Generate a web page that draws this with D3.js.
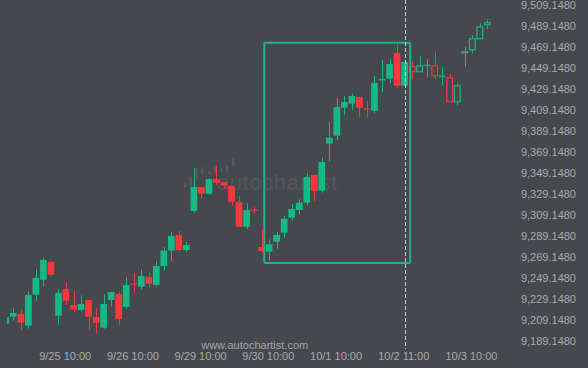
<!DOCTYPE html>
<html>
<head>
  <meta charset="utf-8">
  <script src="https://d3js.org/d3.v7.min.js"></script>
  <style>
    body { margin: 0; background: #45484d; }
    text { font-family: "Liberation Sans", Arial, sans-serif; }
  </style>
</head>
<body>
  <svg id="chart" width="588" height="368"></svg>
  <script>
    // candle data, one entry per bar (index 0 = left edge)
    var opens  = [9205.3, 9212.0, 9214.6, 9203.4, 9233.0, 9247.2, 9264.1, 9213.0, 9238.4, 9223.1,
                  9218.4, 9227.9, 9211.7, 9201.5, 9227.9, 9233.6, 9221.5, 9243.2, 9240.6, 9249.8,
                  9242.2, 9260.3, 9274.9, 9289.8, 9275.5, 9312.7, 9335.5, 9329.1, 9343.1, 9340.3,
                  9336.5, 9321.2, 9297.7, 9313.7, 9278.4, 9273.9, 9283.4, 9292.0, 9306.3, 9313.6,
                  9320.6, 9347.0, 9332.0, 9376.8, 9384.4, 9411.1, 9414.9, 9421.2, 9409.9, 9408.2,
                  9437.7, 9438.7, 9463.1, 9432.0, 9450.8, 9444.8, 9451.4, 9451.4, 9441.0, 9440.0,
                  9416.2, 9462.9, 9465.7, 9476.2, 9489.5];
    var highs  = [9211.7, 9220.0, 9219.3, 9235.8, 9257.1, 9268.6, 9265.3, 9238.1, 9245.1, 9236.5,
                  9232.4, 9227.9, 9220.0, 9233.3, 9235.5, 9235.8, 9249.8, 9253.6, 9257.4, 9253.6,
                  9264.8, 9278.4, 9292.7, 9293.6, 9283.1, 9353.6, 9335.5, 9344.1, 9356.5, 9340.3,
                  9336.5, 9327.0, 9320.3, 9316.8, 9295.5, 9285.7, 9293.0, 9308.2, 9319.1, 9323.8,
                  9348.6, 9347.0, 9363.8, 9397.4, 9420.6, 9422.2, 9424.8, 9421.2, 9417.4, 9441.2,
                  9456.2, 9457.4, 9471.4, 9456.5, 9455.5, 9460.3, 9457.1, 9463.8, 9449.5, 9442.9,
                  9434.3, 9469.5, 9480.0, 9491.4, 9495.2];
    var lows   = [9205.3, 9208.2, 9199.1, 9200.6, 9227.2, 9240.6, 9250.1, 9204.4, 9222.9, 9216.2,
                  9216.8, 9199.1, 9196.2, 9200.6, 9221.5, 9204.4, 9219.6, 9234.9, 9238.1, 9238.7,
                  9240.6, 9256.2, 9265.1, 9274.6, 9273.6, 9310.8, 9324.1, 9327.9, 9337.4, 9333.6,
                  9317.7, 9297.7, 9295.5, 9310.5, 9273.0, 9265.1, 9276.2, 9287.6, 9303.8, 9309.5,
                  9318.4, 9322.2, 9330.1, 9360.0, 9380.0, 9403.8, 9409.1, 9402.5, 9401.9, 9405.7,
                  9425.7, 9434.3, 9429.5, 9430.0, 9438.1, 9444.8, 9440.0, 9438.7, 9432.4, 9416.2,
                  9413.3, 9449.5, 9462.9, 9476.2, 9485.7];
    var closes = [9211.7, 9215.5, 9206.3, 9232.7, 9248.9, 9266.0, 9252.0, 9234.6, 9227.2, 9218.7,
                  9224.1, 9212.0, 9206.3, 9224.1, 9235.5, 9209.8, 9242.2, 9243.1, 9250.8, 9243.4,
                  9260.3, 9274.9, 9288.9, 9275.5, 9280.3, 9335.5, 9329.1, 9343.1, 9339.6, 9336.8,
                  9321.5, 9297.7, 9313.6, 9313.6, 9274.6, 9281.0, 9289.8, 9305.1, 9314.6, 9320.6,
                  9345.1, 9332.0, 9359.3, 9382.5, 9411.7, 9416.5, 9422.2, 9411.1, 9409.8, 9434.6,
                  9437.8, 9452.7, 9432.0, 9454.6, 9444.8, 9451.4, 9451.5, 9441.0, 9441.1, 9416.2,
                  9432.4, 9464.8, 9477.1, 9488.6, 9492.4];

    var xTickIdx = [8, 17, 26, 35, 44, 53, 62];
    var xLabels = ['9/25 10:00', '9/26 10:00', '9/29 10:00', '9/30 10:00', '10/1 10:00', '10/2 11:00', '10/3 10:00'];
    var yTicks = d3.range(17).map(function(k) { return 9189.148 + 20 * k; });

    // breakout marker and pattern box (bar index / price)
    var breakIdx = 53;
    var boxIdx = [34.35, 53.75];
    var boxPrice = [9263.1, 9473.0];

    var green = '#14b984', red = '#f9383e';

    var svg = d3.select('#chart');
    var x = d3.scaleLinear().domain([0, 64]).range([5.8, 5.8 + 64 * 7.524]);
    var y = d3.scaleLinear().domain([9189.148, 9509.148]).range([340.7, 4.7]);
    var bw = 6.7;

    svg.append('rect').attr('width', 588).attr('height', 368).attr('fill', '#45484d');

    svg.append('clipPath').attr('id', 'plot')
      .append('rect').attr('x', 7).attr('y', 0).attr('width', 505).attr('height', 350);

    // watermark logo + name
    var wm = svg.append('g').attr('transform', 'translate(183,190)');
    var logoBars = [[1, -7, -2], [6.5, -13, -3], [12.5, -22, -10], [18, -23, -15], [25, -19, -15],
                    [31, -25, -17], [37, -22, -18], [43, -25, -18], [49, -32, -24]];
    logoBars.forEach(function(b) {
      wm.append('rect').attr('x', b[0]).attr('y', b[1]).attr('width', 2.5).attr('height', b[2] - b[1])
        .attr('rx', 1.2).attr('fill', '#56595e');
    });
    wm.append('text').attr('x', 34).attr('y', 0).attr('font-size', 22).attr('letter-spacing', 0.6)
      .attr('fill', '#53565b').text('autochartist');

    var plot = svg.append('g').attr('clip-path', 'url(#plot)');

    var bars = plot.selectAll('g.candle').data(opens).enter().append('g').attr('class', 'candle');
    bars.each(function(o, i) {
      var g = d3.select(this);
      var c = closes[i];
      var col = c >= o ? green : red;
      var hollow = i > breakIdx;
      var cx = x(i);
      var top = y(Math.max(o, c)), bot = y(Math.min(o, c));
      g.append('line')
        .attr('x1', Math.round(cx) + 0.5).attr('x2', Math.round(cx) + 0.5)
        .attr('y1', y(highs[i])).attr('y2', hollow ? top : y(lows[i]))
        .attr('stroke', col).attr('stroke-width', 1);
      if (hollow) {
        g.append('line')
          .attr('x1', Math.round(cx) + 0.5).attr('x2', Math.round(cx) + 0.5)
          .attr('y1', bot).attr('y2', y(lows[i]))
          .attr('stroke', col).attr('stroke-width', 1);
      }
      if (bot - top < 1.2) {
        g.append('rect').attr('x', cx - bw / 2).attr('y', top - 0.5).attr('width', bw).attr('height', 1.2)
          .attr('fill', col);
      } else if (hollow) {
        g.append('rect').attr('x', cx - bw / 2 + 0.5).attr('y', top + 0.5)
          .attr('width', bw - 1).attr('height', bot - top - 1)
          .attr('fill', 'none').attr('stroke', col).attr('stroke-width', 1.2);
      } else {
        g.append('rect').attr('x', cx - bw / 2).attr('y', top).attr('width', bw).attr('height', bot - top)
          .attr('fill', col);
      }
    });

    // pattern box
    svg.append('rect')
      .attr('x', x(boxIdx[0])).attr('y', y(boxPrice[1]))
      .attr('width', x(boxIdx[1]) - x(boxIdx[0])).attr('height', y(boxPrice[0]) - y(boxPrice[1]))
      .attr('rx', 1).attr('fill', 'none').attr('stroke', '#1cb487').attr('stroke-width', 2);

    // breakout dashed line
    svg.append('line')
      .attr('x1', Math.round(x(breakIdx)) + 0.5).attr('x2', Math.round(x(breakIdx)) + 0.5)
      .attr('y1', 0).attr('y2', 349)
      .attr('stroke', '#c9cacc').attr('stroke-width', 1).attr('stroke-dasharray', '4,2');

    // axes
    var yAxis = svg.append('g').attr('transform', 'translate(576,0)')
      .call(d3.axisLeft(y).tickValues(yTicks).tickSize(0).tickPadding(0).tickFormat(d3.format(',.4f')));
    var xAxis = svg.append('g').attr('transform', 'translate(-1.3,349)')
      .call(d3.axisBottom(x).tickValues(xTickIdx).tickSize(0).tickPadding(3)
        .tickFormat(function(d, i) { return xLabels[i]; }));
    [yAxis, xAxis].forEach(function(a) {
      a.select('.domain').remove();
      a.selectAll('text').attr('font-size', 11).attr('fill', '#a9abaf')
        .attr('font-family', '"Liberation Sans", Arial, sans-serif');
    });

    svg.append('text').attr('x', 254.7).attr('y', 348.5).attr('text-anchor', 'middle')
      .attr('font-size', 11).attr('fill', '#a3a5a8').text('www.autochartist.com');
  </script>
</body>
</html>
